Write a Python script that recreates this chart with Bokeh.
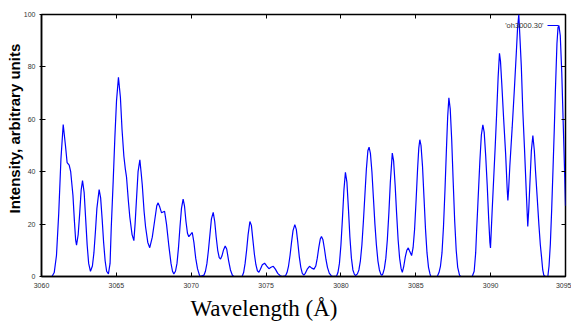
from bokeh.plotting import figure
from bokeh.models import LinearAxis, Label, Arrow, FixedTicker, Range1d, Title
from bokeh.embed import file_html
from bokeh.resources import INLINE

# ---- data ----
wavelength = [
    3060.0, 3060.7, 3060.85, 3061.0, 3061.15, 3061.3, 3061.45, 3061.6, 3061.71, 3061.85,
    3061.95, 3062.1, 3062.2, 3062.28, 3062.34, 3062.45, 3062.55, 3062.65, 3062.74, 3062.85,
    3062.95, 3063.05, 3063.15, 3063.27, 3063.4, 3063.5, 3063.6, 3063.7, 3063.85, 3063.95,
    3064.05, 3064.15, 3064.25, 3064.35, 3064.47, 3064.58, 3064.66, 3064.79, 3064.9, 3065.01,
    3065.14, 3065.27, 3065.38, 3065.5, 3065.6, 3065.68, 3065.8, 3065.9, 3066.05, 3066.17,
    3066.25, 3066.35, 3066.45, 3066.57, 3066.65, 3066.73, 3066.85, 3066.95, 3067.1, 3067.23,
    3067.4, 3067.55, 3067.7, 3067.79, 3067.9, 3068.02, 3068.12, 3068.22, 3068.35, 3068.5,
    3068.65, 3068.75, 3068.84, 3068.95, 3069.05, 3069.15, 3069.25, 3069.35, 3069.46, 3069.55,
    3069.65, 3069.75, 3069.84, 3069.95, 3070.07, 3070.18, 3070.3, 3070.42, 3070.55, 3070.6,
    3070.85, 3070.95, 3071.05, 3071.15, 3071.25, 3071.35, 3071.47, 3071.57, 3071.67, 3071.77,
    3071.87, 3071.96, 3072.05, 3072.15, 3072.27, 3072.37, 3072.5, 3072.62, 3072.75, 3072.85,
    3073.4, 3073.5, 3073.6, 3073.7, 3073.8, 3073.92, 3074.02, 3074.12, 3074.22, 3074.32,
    3074.42, 3074.52, 3074.62, 3074.75, 3074.9, 3075.05, 3075.19, 3075.33, 3075.48, 3075.62,
    3075.78, 3075.95, 3076.08,
    3076.3, 3076.4, 3076.5, 3076.6, 3076.7, 3076.8, 3076.92, 3077.02, 3077.12, 3077.22,
    3077.32, 3077.42, 3077.52, 3077.62, 3077.75, 3077.9, 3078.05, 3078.2, 3078.32, 3078.42,
    3078.52, 3078.62, 3078.7, 3078.8, 3078.9, 3079.0, 3079.1, 3079.22, 3079.35, 3079.45,
    3079.71, 3079.8, 3079.9, 3080.0, 3080.1, 3080.2, 3080.3, 3080.4, 3080.5, 3080.6,
    3080.7, 3080.8, 3080.9, 3080.98,
    3081.1, 3081.2, 3081.3, 3081.4, 3081.5, 3081.6, 3081.7, 3081.8, 3081.88, 3081.97,
    3082.07, 3082.17, 3082.27, 3082.37, 3082.47, 3082.57, 3082.67, 3082.73,
    3082.8, 3082.9, 3083.0, 3083.1, 3083.2, 3083.3, 3083.43, 3083.52, 3083.62, 3083.72,
    3083.82, 3083.92, 3084.02, 3084.1,
    3084.2, 3084.3, 3084.4, 3084.5, 3084.6, 3084.72, 3084.82, 3084.92, 3085.02, 3085.12,
    3085.2, 3085.27, 3085.35, 3085.45, 3085.55, 3085.65, 3085.75, 3085.85, 3085.95, 3086.0,
    3086.43, 3086.55, 3086.65, 3086.75, 3086.85, 3086.95, 3087.05, 3087.13, 3087.21, 3087.3,
    3087.4, 3087.5, 3087.6, 3087.7, 3087.8, 3087.92, 3088.0,
    3088.77, 3088.9, 3089.0, 3089.06, 3089.15, 3089.28, 3089.38, 3089.48, 3089.57, 3089.67,
    3089.77, 3089.87, 3089.95, 3089.99,
    3090.1, 3090.2, 3090.3, 3090.4, 3090.5, 3090.59, 3090.66, 3090.74, 3090.87, 3091.0,
    3091.1, 3091.15,
    3091.2, 3091.28, 3091.44, 3091.59, 3091.72, 3091.8, 3091.88, 3091.95, 3092.05, 3092.15,
    3092.26, 3092.39, 3092.48,
    3092.55, 3092.61, 3092.72, 3092.82, 3092.92, 3093.0, 3093.1, 3093.22, 3093.32, 3093.4,
    3093.48, 3093.55, 3093.65, 3093.82,
    3093.9, 3093.99, 3094.08, 3094.17, 3094.25, 3094.32, 3094.43, 3094.5, 3094.56, 3094.65,
    3094.75, 3094.85, 3094.95, 3095.0,
]
intensity = [
    0, 0, 1.5, 8, 24, 45, 58, 50, 43.5, 42.5,
    40, 31, 21, 14, 12, 16, 24, 33, 36.6, 32,
    22, 12, 5, 2, 4, 9, 17, 26, 33.2, 30,
    22, 13, 6, 2, 1, 5, 18.8, 36.6, 53, 67,
    76, 68.4, 56, 46, 41, 37.9, 29, 22.6, 16, 13.7,
    20, 30, 40, 44.5, 40, 35, 25, 19, 13, 11,
    15, 21, 27, 28.1, 26.5, 24.3, 24.6, 24.9, 20, 12,
    5, 2, 1, 2, 5, 11, 19, 26, 29.5, 27,
    21, 16.5, 15.2, 16, 16.8, 13, 7, 3, 0.5, 0,
    0.5, 2, 5, 10, 16, 22, 24.5, 21, 15, 10,
    7.2, 6.7, 7.8, 10, 11.6, 10.5, 6, 2.5, 0.5, 0,
    0, 1.5, 5, 10, 16, 21, 19.5, 14, 8.5, 4.5,
    2.2, 1.6, 2.8, 4.5, 5.1, 4, 3, 3.5, 3.9, 2.8,
    1.2, 0.3, 0,
    0.3, 1.5, 4, 8, 13, 17.5, 19.8, 18, 13, 7.5,
    3.5, 1.2, 0.5, 1.2, 2.8, 3.9, 3.2, 2.8, 4, 7,
    11, 14.3, 15.3, 14, 10.5, 6.5, 3.5, 1.3, 0.3, 0,
    0.2, 1.5, 5, 12, 22, 33, 39.8, 36, 26, 15,
    7, 2.5, 0.8, 0.4,
    1, 2.5, 6, 12, 21, 31, 41, 48, 49.4, 47,
    40, 30, 20, 12, 6, 2.5, 0.8, 0.4,
    1, 3, 7, 14, 24, 36, 47.1, 44, 35, 24,
    14, 7, 3, 1.6,
    4, 7.5, 10, 10.9, 9.5, 8, 11, 18, 29, 41,
    49, 52.2, 50, 42, 30, 18, 9, 3.5, 1, 0,
    0, 1.5, 4, 9, 19, 33, 49, 61, 68.2, 64,
    52, 36, 21, 10, 3.5, 0.5, 0,
    0, 2, 9, 17, 28, 44, 54, 57.9, 55, 46,
    35, 22, 13, 10.9,
    25, 37, 49, 62, 76, 85.2, 82, 74, 60, 47,
    34, 29,
    33, 42, 57, 72, 86, 95, 100, 92, 80, 63,
    49, 31, 19.1,
    26, 34, 48, 53.8, 48, 40, 31, 20, 12, 7.4,
    2.5, 0.5, 0, 0,
    4, 12.6, 26, 41.7, 56, 70, 89, 95, 95.8, 92,
    78, 58, 38, 27,
]
x_ticks = [3060, 3065, 3070, 3075, 3080, 3085, 3090, 3095]
y_ticks = [0, 20, 40, 60, 80, 100]
series_name = "'oh3000.30'"
x_title = "Wavelength (Å)"
y_title = "Intensity, arbitrary units"

TICK_FONT = "Liberation Sans"
TICK_COLOR = "#333333"
LINE_COLOR = "#0000ff"

p = figure(width=571, height=324, output_backend="svg", toolbar_location=None,
           x_range=Range1d(3060, 3095), y_range=Range1d(0, 100),
           min_border_left=41, min_border_right=6, min_border_top=14,
           min_border_bottom=48, background_fill_color="white",
           border_fill_color="white")

r = p.line(wavelength, intensity, line_color=LINE_COLOR, line_width=1.2)

p.xgrid.visible = False
p.ygrid.visible = False
p.outline_line_color = "#000000"
p.outline_line_width = 1.5
p.outline_line_alpha = 1.0

# bottom axis
xa = p.xaxis[0]
xa.ticker = FixedTicker(ticks=x_ticks)
xa.major_tick_in = 4
xa.major_tick_out = 0
xa.minor_tick_line_color = None
xa.major_label_standoff = 6
xa.major_label_text_font = TICK_FONT
xa.major_label_text_font_size = "7px"
xa.major_label_text_color = TICK_COLOR
xa.axis_line_color = "#000000"
xa.axis_line_width = 1.5

# left axis
ya = p.yaxis[0]
ya.ticker = FixedTicker(ticks=y_ticks)
ya.major_tick_in = 4
ya.major_tick_out = 2
ya.minor_tick_line_color = None
ya.major_label_standoff = 4
ya.major_label_text_font = TICK_FONT
ya.major_label_text_font_size = "7px"
ya.major_label_text_color = TICK_COLOR
ya.axis_line_color = "#000000"
ya.axis_line_width = 1.5

# mirrored tick marks along the top and right, no labels
ta = LinearAxis(ticker=FixedTicker(ticks=x_ticks), major_tick_in=4, major_tick_out=0,
                minor_tick_line_color=None, axis_line_color=None, major_label_standoff=0,
                major_label_overrides={t: "" for t in x_ticks})
p.add_layout(ta, "above")
ra = LinearAxis(ticker=FixedTicker(ticks=y_ticks), major_tick_in=4, major_tick_out=0,
                minor_tick_line_color=None, axis_line_color=None, major_label_standoff=0,
                major_label_overrides={t: "" for t in y_ticks})
p.add_layout(ra, "right")

# axis titles (the reference's titles sit off-centre)
p.add_layout(Title(text=y_title, align="left", offset=63, standoff=-4,
                   text_font="Liberation Sans", text_font_style="bold",
                   text_font_size="15px", text_color="#000000"), "left")
p.add_layout(Title(text=x_title, align="left", offset=149, standoff=6,
                   text_font="Liberation Serif", text_font_style="normal",
                   text_font_size="23px", text_color="#000000"), "below")

# key: text with the line sample to its right (gnuplot style)
p.add_layout(Label(x=502, y=251, x_units="screen", y_units="screen", text=series_name,
                   text_align="right", text_baseline="middle", text_font=TICK_FONT,
                   text_font_size="7.5px", text_color=TICK_COLOR))
p.add_layout(Arrow(end=None, x_start=506, y_start=251, x_end=517, y_end=251,
                   start_units="screen", end_units="screen",
                   line_color=LINE_COLOR, line_width=1.2))

open("out.html", "w").write(file_html(p, INLINE))
